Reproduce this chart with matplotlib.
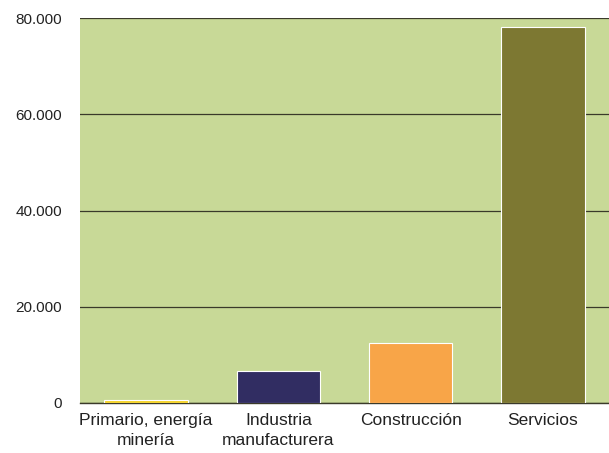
import matplotlib.pyplot as plt
from matplotlib.ticker import FuncFormatter

categories = ['Primario, energía\nminería', 'Industria\nmanufacturera', 'Construcción', 'Servicios']
values = [700, 6650, 12450, 78100]
colors = ['#F5D328', '#312D62', '#F8A548', '#7D7832']
yticks = [0, 20000, 40000, 60000, 80000]

plt.rcParams['font.family'] = ['Liberation Sans', 'DejaVu Sans']

fig = plt.figure(figsize=(6.09, 4.53), dpi=100)
ax = fig.add_axes([80 / 609, 50 / 453, 529 / 609, 385 / 453])
ax.set_facecolor('#C8D997')

ax.bar(range(len(categories)), values, width=0.63, color=colors,
       edgecolor='white', linewidth=0.8, zorder=3)

ax.set_xlim(-0.5, 3.5)
ax.set_ylim(0, 80000)
ax.set_yticks(yticks)
ax.yaxis.set_major_formatter(FuncFormatter(lambda v, p: f'{int(v):,}'.replace(',', '.')))
ax.grid(axis='y', color='#3a3a2a', linewidth=0.9, zorder=1)
ax.set_xticks(range(len(categories)))
ax.set_xticklabels(categories, fontsize=12.5, linespacing=1.4)

for s in ['left', 'right', 'top']:
    ax.spines[s].set_visible(False)
ax.spines['bottom'].set_color('#3a3a2a')
ax.spines['bottom'].set_linewidth(1.0)
ax.tick_params(axis='both', length=0, colors='#222222')
ax.tick_params(axis='y', pad=13, labelsize=11)
ax.tick_params(axis='x', pad=7)

fig.savefig('out.png', dpi=100)
